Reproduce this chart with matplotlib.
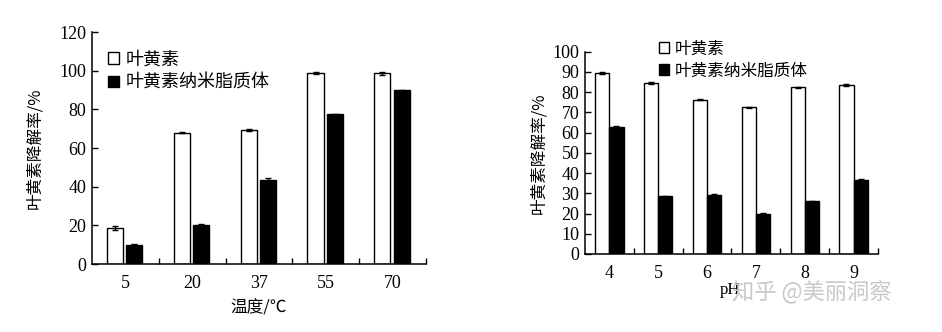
import numpy as np
import matplotlib
matplotlib.use('Agg')
import matplotlib.pyplot as plt
from matplotlib.ticker import FixedLocator

plt.rcParams['font.family'] = ['Noto Sans CJK SC', 'DejaVu Sans']

# temperature panel
temp_labels = ['5', '20', '37', '55', '70']
temp_free = [18.8, 68.0, 69.4, 98.6, 98.6]
temp_free_err = [1.0, 0.4, 0.5, 0.5, 0.7]
temp_lipo = [10.0, 20.3, 43.6, 77.5, 89.8]
temp_lipo_err = [0.3, 0.3, 0.8, 0.3, 0.4]

# pH panel
ph_labels = ['4', '5', '6', '7', '8', '9']
ph_free = [89.6, 84.5, 76.3, 72.6, 82.3, 83.5]
ph_free_err = [0.5, 0.4, 0.4, 0.3, 0.3, 0.5]
ph_lipo = [62.9, 28.6, 29.4, 20.0, 26.1, 36.7]
ph_lipo_err = [0.3, 0.3, 0.4, 0.3, 0.3, 0.6]

legend_labels = ['叶黄素', '叶黄素纳米脂质体']
serif = 'Liberation Serif'


def draw_panel(ax, labels, free, free_err, lipo, lipo_err, width, off_free, off_lipo,
               ymax, ystep, xlabel, ylabelpad):
    x = np.arange(len(labels))
    ekw = dict(elinewidth=1, capthick=1, ecolor='black')
    ax.bar(x + off_free, free, width, color='white', edgecolor='black', linewidth=1,
           yerr=free_err, capsize=2.5, error_kw=ekw, label=legend_labels[0])
    ax.bar(x + off_lipo, lipo, width, color='black', edgecolor='black', linewidth=1,
           yerr=lipo_err, capsize=2.5, error_kw=ekw, label=legend_labels[1])
    ax.set_xlim(-0.5, len(labels) - 0.5)
    ax.set_ylim(0, ymax)
    ax.set_yticks(np.arange(0, ymax + 1, ystep))
    ax.set_yticklabels([str(v) for v in np.arange(0, ymax + 1, ystep)],
                       fontfamily=serif, fontsize=13)
    ax.set_xticks(x)
    ax.set_xticklabels(labels, fontfamily=serif, fontsize=13)
    ax.xaxis.set_minor_locator(FixedLocator(np.arange(0.5, len(labels), 1.0)))
    ax.tick_params(axis='x', which='major', length=0, pad=8)
    ax.tick_params(axis='x', which='minor', direction='in', length=4, width=1)
    ax.tick_params(axis='y', direction='in', length=4, width=1, pad=4)
    for s in ['top', 'right']:
        ax.spines[s].set_visible(False)
    for s in ['left', 'bottom']:
        ax.spines[s].set_linewidth(1.1)
    ax.set_ylabel('叶黄素降解率/%', fontsize=12, labelpad=ylabelpad)
    if xlabel:
        ax.set_xlabel(xlabel, fontsize=12, labelpad=5)


fig = plt.figure(figsize=(9.42, 3.32), dpi=100)

ax1 = fig.add_axes([0.0977, 0.2048, 0.3546, 0.6988])
draw_panel(ax1, temp_labels, temp_free, temp_free_err, temp_lipo, temp_lipo_err,
           0.24, -0.155, 0.135, 120, 20, '温度/℃', 12)
ax1.legend(loc='upper left', bbox_to_anchor=(0.0, 0.99), frameon=False, fontsize=13,
           handlelength=0.6, handleheight=0.6, handletextpad=0.35, labelspacing=0.3)

ax2 = fig.add_axes([0.621, 0.235, 0.311, 0.6093])
draw_panel(ax2, ph_labels, ph_free, ph_free_err, ph_lipo, ph_lipo_err,
           0.29, -0.145, 0.145, 100, 10, None, 4)
ax2.legend(loc='upper left', bbox_to_anchor=(0.2, 1.13), frameon=False, fontsize=12,
           handlelength=0.6, handleheight=0.6, handletextpad=0.35, labelspacing=0.3)

fig.text(0.775, 0.125, 'pH', fontfamily=serif, fontsize=12, ha='center', va='center')
fig.text(0.862, 0.118, '知乎 @美丽洞察', fontsize=16, color='#c8c8c8',
         ha='center', va='center')

fig.savefig('out.png', dpi=100)
